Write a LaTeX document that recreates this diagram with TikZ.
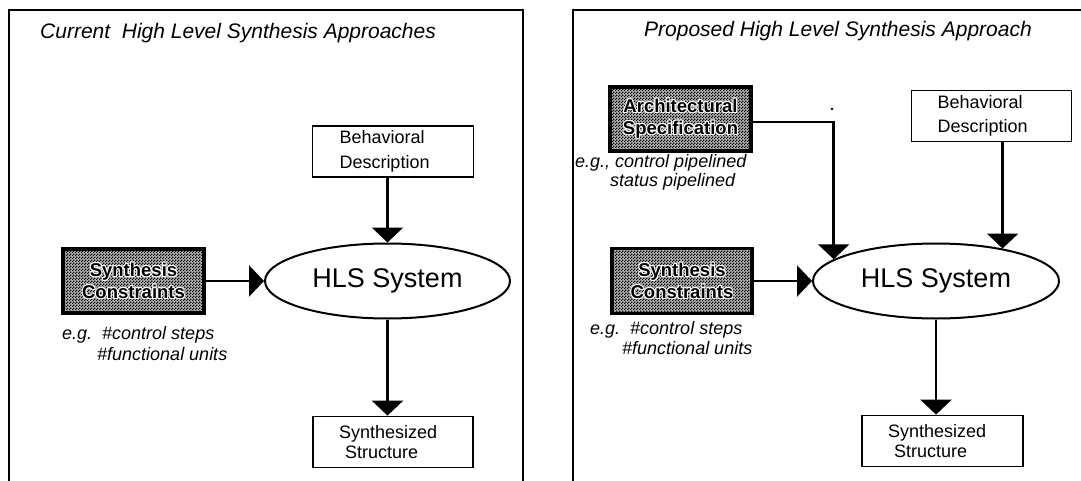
\documentclass[tikz,border=0pt]{standalone}
\usepackage{fontspec}
\setmainfont{Liberation Sans}
\usetikzlibrary{arrows.meta,shapes.geometric,patterns}

% fine checkerboard screen used for the shaded input boxes
\pgfdeclarepatternformonly{finechecks}{\pgfpointorigin}{\pgfpoint{3pt}{3pt}}{\pgfpoint{3pt}{3pt}}{%
  \pgfpathrectangle{\pgfpointorigin}{\pgfpoint{1.5pt}{1.5pt}}%
  \pgfpathrectangle{\pgfpoint{1.5pt}{1.5pt}}{\pgfpoint{1.5pt}{1.5pt}}%
  \pgfusepath{fill}}

% bold label with a thin white rim so it stays legible on the screen
\newcommand\rimcopy[3]{\rlap{\kern#1\raisebox{#2}{\textcolor{white}{#3}}}}
\newcommand\rimmed[1]{\leavevmode
  \rimcopy{-1pt}{0pt}{#1}\rimcopy{1pt}{0pt}{#1}%
  \rimcopy{0pt}{1pt}{#1}\rimcopy{0pt}{-1pt}{#1}%
  \rimcopy{-.8pt}{.8pt}{#1}\rimcopy{.8pt}{.8pt}{#1}%
  \rimcopy{-.8pt}{-.8pt}{#1}\rimcopy{.8pt}{-.8pt}{#1}#1}

\tikzset{
  panel/.style={line width=2pt},
  behbox/.style={draw, line width=1.8pt, align=left, text width=107pt, inner xsep=27pt,
    inner ysep=0pt, minimum height=51pt, font=\fontsize{18}{24.5}\selectfont},
  outbox/.style={draw, line width=1.8pt, align=left, text width=108pt, inner xsep=26pt,
    inner ysep=0pt, minimum height=51pt, font=\fontsize{18}{19.5}\selectfont},
  shadebox/.style={draw, line width=3.4pt, preaction={fill=black!30},
    pattern=finechecks, pattern color=black,
    align=center, inner sep=0pt, minimum width=141pt, minimum height=64pt,
    font=\bfseries\fontsize{18.5}{22}\selectfont},
  hlsnode/.style={ellipse, draw, line width=2pt, inner sep=0pt, minimum width=245pt,
    minimum height=75pt, font=\fontsize{27}{30}\selectfont},
  note/.style={anchor=west, align=left, inner sep=0pt, font=\itshape\fontsize{18}{21}\selectfont},
  heading/.style={anchor=west, inner sep=0pt, font=\itshape\fontsize{21}{24}\selectfont},
  flow/.style={line width=2.6pt, -{Triangle[length=15pt,width=31pt]}},
}

\begin{document}
\begin{tikzpicture}[x=1pt, y=-1pt]
\useasboundingbox (0,0) rectangle (1081,481);

% ---------- left panel: current approaches ----------
\draw[panel] (9,481) -- (9,10.5) -- (522.5,10.5) -- (522.5,481);
\node[heading] (titleL) at (40,33) {Current~ High Level Synthesis Approaches};

\node[behbox] (behL) at (393,151.5) {Behavioral\\Description};
\node[hlsnode] (hlsL) at (387.5,281) {HLS System};
\node[shadebox] (conL) at (133.5,281) {\rimmed{Synthesis}\\\rimmed{Constraints}};
\node[note] (noteL) at (62,344) {e.g.~~\#control steps\\\hspace{35pt}\#functional units};
\node[outbox] (synL) at (393,442) {Synthesized\\\hspace{6pt}Structure};

\draw[flow] (behL.south -| hlsL.north) -- (hlsL.north);
\draw[flow] (conL.east) -- (hlsL.west);
\draw[flow] (hlsL.south) -- (hlsL.south |- synL.north);

% ---------- right panel: proposed approach ----------
\draw[panel] (573,481) -- (573,10.5) -- (1081,10.5);
\node[heading] (titleR) at (644,31) {Proposed High Level Synthesis Approach};

\node[shadebox] (archR) at (680.5,119) {\rimmed{Architectural}\\\rimmed{Specification}};
\node[note, font=\itshape\fontsize{18}{19.5}\selectfont] (archnote) at (575,172.5)
  {e.g., control pipelined\\\hspace{35pt}status pipelined};
\node[behbox, text width=108pt, inner xsep=26pt] (behR) at (991.5,116) {Behavioral\\Description};
\node[hlsnode, minimum width=246pt] (hlsR) at (936,281) {HLS System};
\node[shadebox, minimum width=140pt, minimum height=65pt] (conR) at (682,281) {\rimmed{Synthesis}\\\rimmed{Constraints}};
\node[note, font=\itshape\fontsize{18}{20}\selectfont] (noteR) at (590,338)
  {e.g.~~\#control steps\\\hspace{32pt}\#functional units};
\node[outbox, text width=109pt] (synR) at (942.5,441) {Synthesized\\\hspace{6pt}Structure};

\fill (832,109) circle (1.3pt);

\draw[flow] ([yshift=-3pt]archR.east) -| (hlsR.168.7);
\draw[flow] (behR.south -| hlsR.26) -- (hlsR.26);
\draw[flow] (conR.east) -- (hlsR.west);
\draw[flow] (hlsR.south) -- (hlsR.south |- synR.north);
\end{tikzpicture}
\end{document}
